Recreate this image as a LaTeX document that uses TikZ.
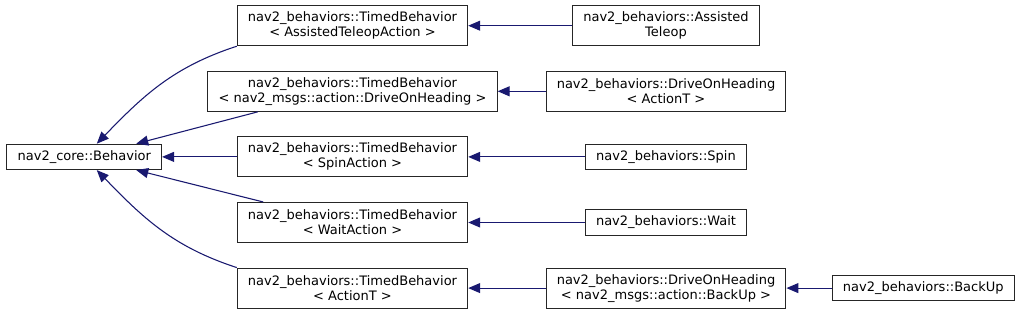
\documentclass[tikz,border=0pt]{standalone}
\usepackage{fontspec}
\setmainfont{DejaVu Sans}
\usepackage{xcolor}
\usepackage{tikz}
\usetikzlibrary{arrows.meta,positioning}
\definecolor{edgeblue}{HTML}{191970}
\tikzset{
  cls/.style={rectangle, draw=black!85, line width=0.8pt, fill=white, align=center,
    minimum height=19pt, inner xsep=8pt, inner ysep=2pt,
    font=\fontsize{9.75}{11.25}\selectfont},
  cls2/.style={cls, minimum height=30pt},
  inh/.style={-{Triangle[length=9pt, width=7.5pt]}, draw=edgeblue, line width=0.8pt},
}
\begin{document}
\begin{tikzpicture}[x=0.75pt, y=-0.75pt, node distance=18.4pt and 34pt]
  \useasboundingbox[fill=white] (0,0) rectangle (1021,313);
  % middle column
  \node[cls2] (tbAssist) at (352.5,25.7) {nav2\_behaviors::TimedBehavior\\< AssistedTeleopAction >};
  \node[cls2, below=of tbAssist] (tbDrive) {nav2\_behaviors::TimedBehavior\\< nav2\_msgs::action::DriveOnHeading >};
  \node[cls2, below=of tbDrive] (tbSpin) {nav2\_behaviors::TimedBehavior\\< SpinAction >};
  \node[cls2, below=of tbSpin] (tbWait) {nav2\_behaviors::TimedBehavior\\< WaitAction >};
  \node[cls2, below=of tbWait] (tbAct) {nav2\_behaviors::TimedBehavior\\< ActionT >};
  \node[cls, left=56pt of tbSpin] (core) {nav2\_core::Behavior};
  % right column
  \coordinate (colR) at (666,0);
  \node[cls2] (teleop) at (colR |- tbAssist) {nav2\_behaviors::Assisted\\Teleop};
  \node[cls2] (driveAct) at (colR |- tbDrive) {nav2\_behaviors::DriveOnHeading\\< ActionT >};
  \node[cls] (spin) at (colR |- tbSpin) {nav2\_behaviors::Spin};
  \node[cls] (wait) at (colR |- tbWait) {nav2\_behaviors::Wait};
  \node[cls2] (driveBack) at (colR |- tbAct) {nav2\_behaviors::DriveOnHeading\\< nav2\_msgs::action::BackUp >};
  \node[cls, right=of driveBack] (backup) {nav2\_behaviors::BackUp};
  % inheritance
  \draw[inh] (tbAssist.south west) to[out=198, in=46] ([xshift=9.4pt]core.north);
  \draw[inh] ([xshift=-71pt]tbDrive.south) -- ([xshift=39pt]core.north);
  \draw[inh] (tbSpin) -- (core);
  \draw[inh] ([xshift=-67pt]tbWait.north) -- ([xshift=39pt]core.south);
  \draw[inh] (tbAct.north west) to[out=162, in=-46] ([xshift=9.4pt]core.south);
  \draw[inh] (teleop) -- (tbAssist);
  \draw[inh] (driveAct) -- (tbDrive);
  \draw[inh] (spin) -- (tbSpin);
  \draw[inh] (wait) -- (tbWait);
  \draw[inh] (driveBack) -- (tbAct);
  \draw[inh] (backup) -- (driveBack);
\end{tikzpicture}
\end{document}
